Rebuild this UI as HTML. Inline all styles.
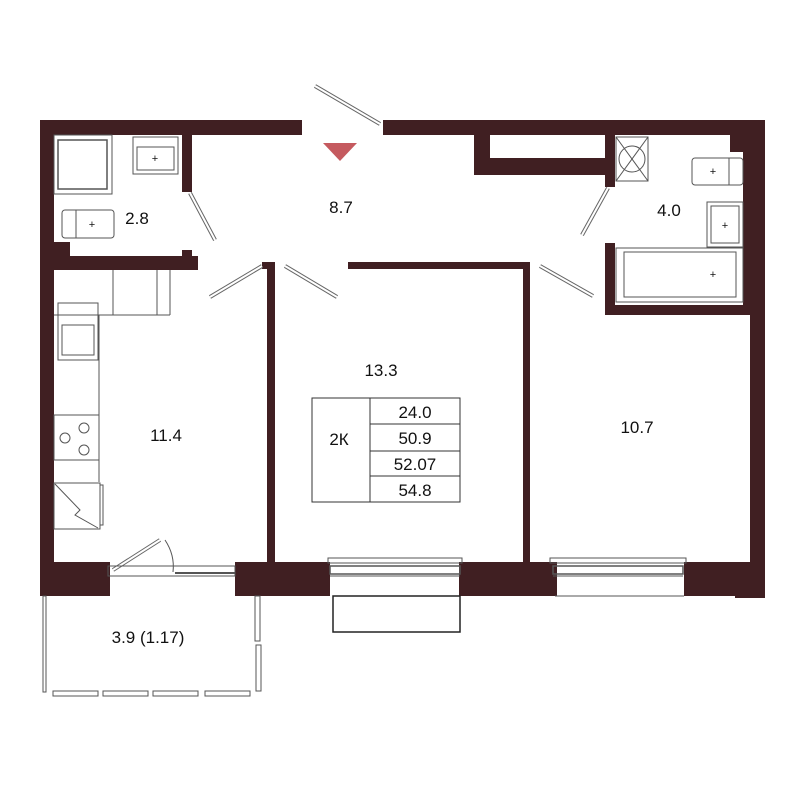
<!DOCTYPE html>
<html><head><meta charset="utf-8"><style>body{margin:0;background:#fff}svg{display:block}text{font-family:"Liberation Sans",sans-serif;fill:#111}</style></head><body>
<svg width="800" height="800" viewBox="0 0 800 800" xmlns="http://www.w3.org/2000/svg">
<g fill="#401f22">
<rect x="40" y="120" width="262" height="15"/>
<rect x="40" y="120" width="14" height="476"/>
<rect x="383" y="120" width="382" height="15"/>
<rect x="474" y="120" width="16" height="55"/>
<rect x="474" y="158" width="141" height="17"/>
<rect x="605" y="120" width="10" height="67"/>
<rect x="730" y="120" width="35" height="32"/>
<rect x="743" y="120" width="22" height="195"/>
<rect x="750" y="300" width="15" height="296"/>
<rect x="605" y="243" width="10" height="72"/>
<rect x="605" y="305" width="145" height="10"/>
<rect x="182" y="120" width="10" height="72"/>
<rect x="40" y="256" width="158" height="14"/>
<rect x="40" y="242" width="30" height="20"/>
<rect x="182" y="250" width="10" height="20"/>
<rect x="267" y="262" width="8" height="300"/>
<rect x="262" y="262" width="13" height="7"/>
<rect x="348" y="262" width="182" height="7"/>
<rect x="523" y="262" width="7" height="300"/>
<rect x="40" y="562" width="70" height="34"/>
<rect x="235" y="562" width="95" height="34"/>
<rect x="459" y="562" width="98" height="34"/>
<rect x="684" y="562" width="81" height="34"/>
<rect x="735" y="590" width="30" height="8"/>
</g>
<polygon points="323,143 357,143 340,161" fill="#c55a5f"/>
<g fill="none" stroke="#555" stroke-width="1">
<!-- doors -->
<g stroke="#666" stroke-width="4" stroke-linecap="butt"><line x1="315" y1="86" x2="380" y2="124"/><line x1="190" y1="193" x2="215" y2="240"/><line x1="262" y1="266" x2="210" y2="297"/><line x1="285" y1="266" x2="337" y2="297"/><line x1="540" y1="266" x2="593" y2="296"/><line x1="608" y1="188" x2="582" y2="235"/><line x1="113" y1="570" x2="160" y2="540"/></g>
<g stroke="#fff" stroke-width="2"><line x1="315" y1="86" x2="380" y2="124"/><line x1="190" y1="193" x2="215" y2="240"/><line x1="262" y1="266" x2="210" y2="297"/><line x1="285" y1="266" x2="337" y2="297"/><line x1="540" y1="266" x2="593" y2="296"/><line x1="608" y1="188" x2="582" y2="235"/><line x1="113" y1="570" x2="160" y2="540"/></g>
<path d="M165 540 Q175 555 173 572"/>
<!-- left bath -->
<rect x="54" y="135" width="58" height="59"/><rect x="58" y="140" width="49" height="49" stroke-width="1.5"/>
<rect x="133" y="137" width="45" height="37"/><rect x="137" y="147" width="37" height="23"/>
<rect x="62" y="210" width="52" height="28" rx="3"/><line x1="76" y1="210" x2="76" y2="238"/>
<!-- right bath -->
<rect x="616" y="137" width="32" height="44"/><circle cx="632" cy="159" r="13"/><line x1="616" y1="137" x2="648" y2="181"/><line x1="648" y1="137" x2="616" y2="181"/>
<rect x="692" y="158" width="51" height="27" rx="3"/><line x1="729" y1="158" x2="729" y2="185"/>
<rect x="707" y="202" width="36" height="45"/><rect x="711" y="206" width="28" height="37"/>
<rect x="616" y="248" width="127" height="54"/><rect x="624" y="252" width="112" height="45"/>
<!-- kitchen -->
<line x1="54" y1="315" x2="170" y2="315"/><line x1="170" y1="270" x2="170" y2="315"/><line x1="113" y1="270" x2="113" y2="315"/><line x1="157" y1="270" x2="157" y2="315"/>
<line x1="99" y1="315" x2="99" y2="482"/>
<rect x="58" y="303" width="40" height="57"/><rect x="62" y="325" width="32" height="30"/>
<rect x="54" y="415" width="45" height="45"/>
<circle cx="84" cy="428" r="5"/><circle cx="84" cy="450" r="5"/><circle cx="65" cy="438" r="5"/>
<rect x="54" y="483" width="46" height="46"/><polyline points="55,484 80,510 75,515 98,528"/><rect x="100" y="485" width="3" height="40"/>
<!-- windows -->
<rect x="108" y="566" width="127" height="10"/><line x1="175" y1="573" x2="235" y2="573" stroke-width="2"/>
<rect x="328" y="558" width="134" height="5"/><rect x="330" y="566" width="130" height="8" stroke-width="1.5"/><line x1="330" y1="576" x2="460" y2="576"/>
<rect x="550" y="558" width="136" height="5"/><rect x="553" y="566" width="130" height="8" stroke-width="1.5"/><line x1="553" y1="576" x2="683" y2="576"/><line x1="555" y1="596" x2="684" y2="596"/>
<rect x="333" y="596" width="127" height="36" stroke="#222" stroke-width="1.5"/>
<!-- balcony -->
<rect x="43" y="596" width="3" height="96"/>
<rect x="255" y="596" width="5" height="45"/><rect x="256" y="645" width="5" height="46"/>
<rect x="53" y="691" width="45" height="5"/><rect x="103" y="691" width="45" height="5"/><rect x="153" y="691" width="45" height="5"/><rect x="205" y="691" width="45" height="5"/>
<!-- table -->
<rect x="312" y="398" width="148" height="104" stroke="#333"/><line x1="370" y1="398" x2="370" y2="502" stroke="#333"/>
<line x1="370" y1="424" x2="460" y2="424" stroke="#333"/><line x1="370" y1="451" x2="460" y2="451" stroke="#333"/><line x1="370" y1="476" x2="460" y2="476" stroke="#333"/>
</g>
<g font-size="11" fill="#333" text-anchor="middle"><text x="155" y="162">+</text><text x="92" y="228">+</text><text x="713" y="175">+</text><text x="725" y="229">+</text><text x="713" y="278">+</text></g>
<g font-size="17" text-anchor="middle">
<text x="137" y="224">2.8</text><text x="341" y="213">8.7</text><text x="669" y="216">4.0</text>
<text x="166" y="441">11.4</text><text x="381" y="376">13.3</text><text x="637" y="433">10.7</text>
<text x="148" y="643">3.9 (1.17)</text>
<text x="339" y="445">2К</text>
<text x="415" y="418">24.0</text><text x="415" y="444">50.9</text><text x="415" y="470">52.07</text><text x="415" y="496">54.8</text>
</g>
</svg>
</body></html>
